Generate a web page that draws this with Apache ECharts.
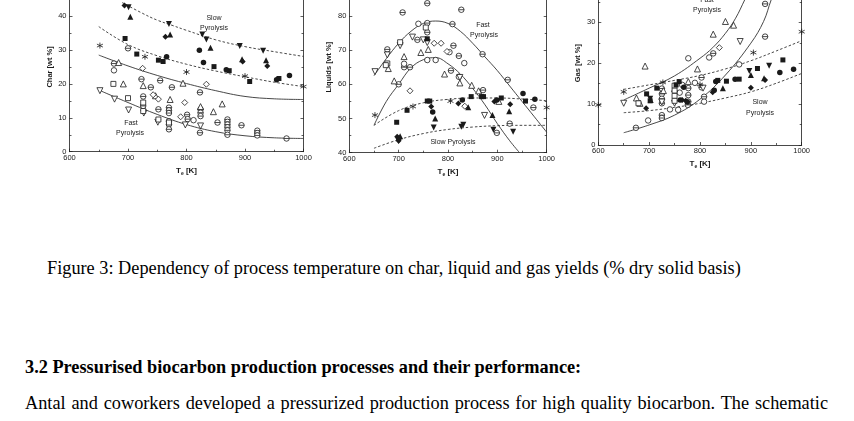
<!DOCTYPE html>
<html>
<head>
<meta charset="utf-8">
<script src="https://cdn.jsdelivr.net/npm/echarts@6/dist/echarts.min.js"></script>
<style>
  html, body { margin: 0; padding: 0; background: #fff; width: 854px; height: 421px; overflow: hidden; position: relative; }
  #chart { position: absolute; left: 0; top: -30px; width: 854px; height: 240px; }
  .txt { position: absolute; font-family: "Liberation Serif", "Times New Roman", serif; font-size: 18.3px; line-height: 18px; color: #000; white-space: nowrap; }
</style>
</head>
<body>
<div id="chart"></div>
<div class="txt" id="cap" style="left:47px; top:259px;">Figure 3: Dependency of process temperature on char, liquid and gas yields (% dry solid basis)</div>
<div class="txt" style="left:25px; top:358px; font-weight:bold;">3.2&nbsp;Pressurised biocarbon production processes and their performance:</div>
<div class="txt" id="para" style="left:25px; top:394px;">Antal and coworkers developed a pressurized production process for high quality biocarbon. The schematic</div>
<script>
// x ticks shared by all three panels
var tempTicks = [600, 700, 800, 900, 1000];

// ---- Char panel ----
var charFilledInvTri = [[701,42.6],[770,37.7],[827,34.6],[834,33.1],[891,31.2],[931,29.8]];
var charFilledTri = [[704,39.8],[772,34.6],[841,30.7],[895,27.3],[936,27.0]];
var charFilledDiamond = [[694,43.1],[764,33.9],[896,26.6],[938,25.3]];
var charFilledCircle = [[766,28],[822,29.9],[829,26.3],[868,24.2],[954,21.2],[976,22.5]];
var charFilledSquare = [[695,33.4],[715,28.8],[752,27.0],[760,26.6],[847,25.1],[873,23.9],[908,20.7],[958,21.6]];
var charStar = [[652,31.3],[729,28],[800,23.5],[900,22.3],[1000,19.2]];
var charTheta = [[700,30.5],[676,26],[723,21.4],[755,21],[739,19],[775,19],[726,16.3],[726,13.5],[752,12.5],[770,13],[770,12.2],[770,11.4],[770,9],[770,8],[770,6.6],[801,10.9],[802,9.6],[823,17.5],[824,12.5],[824,11.5],[824,10.5],[823,5.6],[853,8.6],[870,9.5],[870,8.8],[870,8],[870,7.2],[870,6.3],[870,5],[894,7.8],[921,6.2],[921,5.5],[921,4.8],[971,3.9]];
var charCircle = [[676,24],[812,9.3]];
var charTri = [[684,26.3],[692,20],[726,19.5],[794,20.2],[747,16.5],[772,15.4],[824,13.3],[846,11.8],[861,14.1]];
var charInvTri = [[652,18],[677,15.5],[701,12.3],[727,11.4],[751,8.7],[798,7.9],[824,7.6]];
var charSquare = [[675,20],[700,15.8],[726,14.5],[726,12],[752,9.5],[770,8.6]];
var charDiamond = [[725,24.6],[743,16.8],[752,15.5],[797,14.5],[834,19.9],[790,10.3]];
var charSlowUpper = [[690,44],[725,40.8],[750,38.8],[775,37.3],[800,35.8],[850,33],[900,31],[950,29.5],[1000,28.1]];
var charSlowLower = [[650,36.9],[700,31.6],[750,28.3],[800,25.8],[850,23.8],[900,22.1],[950,20.5],[1000,19.2]];
var charFastUpper = [[650,28.5],[700,25.3],[750,22.5],[800,20.1],[850,18],[900,16.3],[950,15.6],[1000,15.4]];
var charFastLower = [[650,18.2],[700,14.5],[750,11],[800,8],[850,5.9],[900,4.7],[950,4.1],[1000,3.9]];

// ---- Liquids panel ----
var liqTheta = [[758,83.7],[708,81],[827,81.8],[758,77.9],[809,77.6],[758,75.2],[738,73],[677,70.2],[700,60],[711,65],[723,65],[806,64],[811,71.3],[822,68.3],[871,58.3],[870,68.8],[921,61.3],[925,48.5],[899,45.8],[973,53.2]];
var liqCircle = [[740,77.7],[758,67.1],[775,67.1],[711,66],[803,69.4],[833,66.2],[822,62.2]];
var liqSquare = [[755,76.6],[703,72.3],[677,66.1],[674,65.6]];
var liqTri = [[760,70.2],[679,64.6],[691,61],[711,68.1],[745,69.3],[793,63],[824,60.4],[848,59.7],[862,58.1],[903,55]];
var liqInvTri = [[652,63.7],[703,71.3],[728,73.8],[750,73],[758,72.2],[677,68.6],[824,62],[874,50.9]];
var liqDiamond = [[723,58.1],[772,72],[786,72],[798,69.6],[834,53.6]];
var liqStar = [[652,51],[729,53.5],[805,55.1],[1000,53.2]];
var liqFilledSquare = [[696,48.9],[717,52.4],[758,55.1],[763,55.1],[758,73.3],[847,56.4],[868,56.4],[872,56.4],[908,56],[957,55.1]];
var liqFilledDiamond = [[697,44.7],[766,53.5],[821,54.4],[894,55],[926,54.2],[700,43.5]];
var liqFilledCircle = [[700,44.2],[769,51.9],[829,55.4],[899,55.4],[952,57.3],[976,55.6]];
var liqFilledTri = [[774,50],[841,53.3],[890,51],[924,52.1],[703,44.8]];
var liqFilledInvTri = [[700,43.4],[771,47.4],[827,47.6],[831,48.2],[892,46.7],[932,46.1]];
var liqFastOuter = [[650,62.5],[675,67.5],[700,72],[725,75.5],[750,77.8],[775,78.5],[800,77.8],[825,75.5],[850,72],[875,68],[900,64],[925,59.5],[950,55],[975,50.5],[1000,46]];
var liqFastInner = [[650,48],[675,55],[700,60],[725,64.8],[750,67.2],[775,67.8],[800,66],[825,63],[850,58.8],[875,54],[900,48.5],[925,43.5],[945,40]];
var liqSlowUpper = [[650,48],[700,52.3],[750,54.6],[800,55.6],[850,56],[900,56],[950,55.7],[1000,55.2]];
var liqSlowLower = [[650,41.3],[700,43.8],[750,45.6],[800,46.8],[850,47.5],[900,47.9],[950,48],[1000,48]];

// ---- Gas panel ----
var gasTheta = [[928,34.5],[928,26.5],[826,22.4],[803,16.5],[674,4.2],[725,7.3],[725,6.6],[776,9.8],[808,11.8],[725,13.8],[725,12.5],[725,11.3],[725,10.2],[777,13.9],[777,12.2],[777,10.6],[803,14.1]];
var gasCircle = [[818,21.4],[877,19.7],[777,21.2],[698,6],[741,8.7],[757,8.6],[808,10.6],[790,15.2],[765,14.7],[760,12.8]];
var gasTri = [[692,19.3],[850,30.2],[866,29.3],[826,27.1],[795,18.6],[682,10.2],[728,13.3],[777,15.5],[750,13.8],[675,11.5]];
var gasInvTri = [[879,25.3],[650,10.2],[806,13.9],[725,10.5],[750,10.2]];
var gasSquare = [[679,10.2],[750,14.5],[750,13.3],[750,12],[750,10.8]];
var gasDiamond = [[838,23.8]];
var gasStar = [[727,15.3],[600,9.8],[650,13],[905,22.6],[1000,27.7],[800,14.8]];
var gasFilledSquare = [[695,12.5],[715,13.9],[759,15.5],[753,14.7],[852,15.6],[877,16.1],[913,18.7],[963,20.8],[702,10.8],[835,15.8]];
var gasFilledDiamond = [[694,9],[825,12.9],[900,14],[928,15.9],[765,11],[772,10.8]];
var gasFilledCircle = [[761,11],[768,14.1],[828,13.4],[831,15.5],[869,16.1],[957,17.7],[984,18.5],[775,10.5]];
var gasFilledTri = [[845,13.9],[900,17.1],[926,16.3],[703,11]];
var gasFilledInvTri = [[897,18.1],[936,19.4],[702,11.3]];
var gasFastLeft = [[650,11],[700,13.9],[750,16.9],[800,21.2],[825,23.8],[850,27.3],[870,31],[888,35.5],[900,38.5]];
var gasFastRight = [[650,3],[700,4.9],[750,7.3],[800,11.2],[850,17.1],[900,24.9],[925,30.2],[940,35.5],[950,38.5]];
var gasSlowUpper = [[650,13.6],[700,14.7],[750,15.8],[800,17],[850,18.6],[900,20.6],[950,23],[1000,25.5]];
var gasSlowLower = [[650,7.9],[700,8.4],[750,9.2],[800,10.2],[850,11.5],[900,13],[950,15.1],[1000,17.5]];

var ink = '#1a1a1a';
var SYM = {
  circle: 'circle',
  square: 'rect',
  tri: 'triangle',
  diamond: 'diamond',
  invTri: 'path://M0,0 L10,0 L5,8.7 Z',
  theta: 'path://M0,5 A5,5 0 1,1 10,5 A5,5 0 1,1 0,5 Z M0,5 L10,5',
  star: 'path://M5,0 L5,10 M0.7,2.5 L9.3,7.5 M0.7,7.5 L9.3,2.5'
};

function pts(data, sym, filled, g) {
  var size = sym === 'square' ? 5 : (sym === 'circle' || sym === 'theta') ? 5.5 : 6;
  return {
    type: 'scatter', xAxisIndex: g, yAxisIndex: g * 2, data: data,
    symbol: SYM[sym], symbolSize: size, z: 3,
    itemStyle: {
      color: filled ? ink : (sym === 'star' ? 'rgba(0,0,0,0)' : '#fff'),
      borderColor: ink, borderWidth: filled ? 0 : 0.8, opacity: 1
    },
    emphasis: { disabled: true }, silent: true
  };
}
function curve(data, dashed, g) {
  return {
    type: 'line', xAxisIndex: g, yAxisIndex: g * 2, data: data,
    smooth: 0.4, showSymbol: false, symbol: 'none', z: 2, silent: true,
    lineStyle: { color: '#333', width: 0.9, type: dashed ? [2.5, 2] : 'solid' }
  };
}

var grids = [
  { left: 69.5, top: 12.2, width: 234, height: 169.5, min: 0, max: 50, name: 'Char [wt %]', nameGap: 16 },
  { left: 349.3, top: 11.7, width: 197.4, height: 171, min: 40, max: 90, name: 'Liquids [wt %]', nameGap: 16 },
  { left: 598.3, top: 11.4, width: 203.4, height: 163.6, min: 0, max: 40, name: 'Gas [wt %]', nameGap: 16 }
];

var axisLine = { show: true, lineStyle: { color: ink, width: 0.8 } };
var labelFont = { fontFamily: 'Liberation Sans, Arial', fontSize: 7.5, color: ink };
var plain = function (v) { return String(v); };

var option = {
  animation: false,
  grid: grids.map(function (g) { return { left: g.left, top: g.top, width: g.width, height: g.height }; }),
  xAxis: grids.map(function (g, i) {
    return {
      gridIndex: i, type: 'value', min: tempTicks[0], max: tempTicks[tempTicks.length - 1], interval: 100,
      axisLine: axisLine, splitLine: { show: false },
      axisTick: { inside: true, length: 3, lineStyle: { color: ink, width: 0.7 } },
      minorTick: { show: true, splitNumber: 2, length: 2, lineStyle: { color: ink, width: 0.7 } },
      axisLabel: Object.assign({ margin: 2, formatter: plain }, labelFont),
      name: 'T{s|e} [K]', nameLocation: 'middle', nameGap: 14,
      nameTextStyle: {
        fontFamily: 'Liberation Sans, Arial', fontSize: 8, fontWeight: 'bold', color: ink,
        rich: { s: { fontSize: 5, fontWeight: 'bold', verticalAlign: 'bottom', padding: [5, 0, 0, 0] } }
      }
    };
  }),
  yAxis: [],
  series: [],
  graphic: []
};

grids.forEach(function (g, i) {
  option.yAxis.push({
    gridIndex: i, type: 'value', min: g.min, max: g.max, interval: 10, position: 'left',
    axisLine: axisLine, splitLine: { show: false },
    axisTick: { inside: true, length: 3, lineStyle: { color: ink, width: 0.7 } },
    minorTick: { show: true, splitNumber: 2, length: 2, lineStyle: { color: ink, width: 0.7 } },
    axisLabel: Object.assign({ margin: 3 }, labelFont),
    name: g.name, nameLocation: 'middle', nameGap: g.nameGap,
    nameTextStyle: { fontFamily: 'Liberation Sans, Arial', fontSize: 7.5, fontWeight: 'bold', color: ink }
  });
  option.yAxis.push({
    gridIndex: i, type: 'value', min: g.min, max: g.max, interval: 10, position: 'right',
    axisLine: axisLine, splitLine: { show: false },
    axisTick: { inside: true, length: 3, lineStyle: { color: ink, width: 0.7 } },
    minorTick: { show: true, splitNumber: 2, length: 2, lineStyle: { color: ink, width: 0.7 } },
    axisLabel: { show: false }
  });
});

option.series.push(
  curve(charSlowUpper, true, 0), curve(charSlowLower, true, 0),
  curve(charFastUpper, false, 0), curve(charFastLower, false, 0),
  pts(charTheta, 'theta', false, 0), pts(charCircle, 'circle', false, 0),
  pts(charTri, 'tri', false, 0), pts(charInvTri, 'invTri', false, 0),
  pts(charSquare, 'square', false, 0), pts(charDiamond, 'diamond', false, 0),
  pts(charStar, 'star', false, 0),
  pts(charFilledSquare, 'square', true, 0), pts(charFilledDiamond, 'diamond', true, 0),
  pts(charFilledCircle, 'circle', true, 0), pts(charFilledTri, 'tri', true, 0),
  pts(charFilledInvTri, 'invTri', true, 0),

  curve(liqFastOuter, false, 1), curve(liqFastInner, false, 1),
  curve(liqSlowUpper, true, 1), curve(liqSlowLower, true, 1),
  pts(liqTheta, 'theta', false, 1), pts(liqCircle, 'circle', false, 1),
  pts(liqTri, 'tri', false, 1), pts(liqInvTri, 'invTri', false, 1),
  pts(liqSquare, 'square', false, 1), pts(liqDiamond, 'diamond', false, 1),
  pts(liqStar, 'star', false, 1),
  pts(liqFilledSquare, 'square', true, 1), pts(liqFilledDiamond, 'diamond', true, 1),
  pts(liqFilledCircle, 'circle', true, 1), pts(liqFilledTri, 'tri', true, 1),
  pts(liqFilledInvTri, 'invTri', true, 1),

  curve(gasFastLeft, false, 2), curve(gasFastRight, false, 2),
  curve(gasSlowUpper, true, 2), curve(gasSlowLower, true, 2),
  pts(gasTheta, 'theta', false, 2), pts(gasCircle, 'circle', false, 2),
  pts(gasTri, 'tri', false, 2), pts(gasInvTri, 'invTri', false, 2),
  pts(gasSquare, 'square', false, 2), pts(gasDiamond, 'diamond', false, 2),
  pts(gasStar, 'star', false, 2),
  pts(gasFilledSquare, 'square', true, 2), pts(gasFilledDiamond, 'diamond', true, 2),
  pts(gasFilledCircle, 'circle', true, 2), pts(gasFilledTri, 'tri', true, 2),
  pts(gasFilledInvTri, 'invTri', true, 2)
);

// in-plot annotations (chart div is shifted up by 30px)
function note(x, y, s) {
  return { type: 'text', x: x, y: y + 30, z: 10, silent: true,
    style: { text: s, fill: ink, font: '7px "Liberation Sans", Arial', align: 'center', verticalAlign: 'middle' } };
}
option.graphic = [
  note(214, 18, 'Slow'), note(214, 28, 'Pyrolysis'),
  note(131, 123, 'Fast'), note(130, 133, 'Pyrolysis'),
  note(483, 25, 'Fast'), note(484, 35, 'Pyrolysis'),
  note(453, 142, 'Slow Pyrolysis'),
  note(707, 0, 'Fast'), note(707, 10, 'Pyrolysis'),
  note(760, 102, 'Slow'), note(760, 113, 'Pyrolysis')
];

var myChart = echarts.init(document.getElementById('chart'), null, { renderer: 'canvas' });
myChart.setOption(option);

// stretch the body line to its justified width (ends near x=828)
var para = document.getElementById('para');
var gaps = para.textContent.split(' ').length - 1;
var extra = 803 - para.getBoundingClientRect().width;
para.style.wordSpacing = (extra / gaps) + 'px';
</script>
</body>
</html>
